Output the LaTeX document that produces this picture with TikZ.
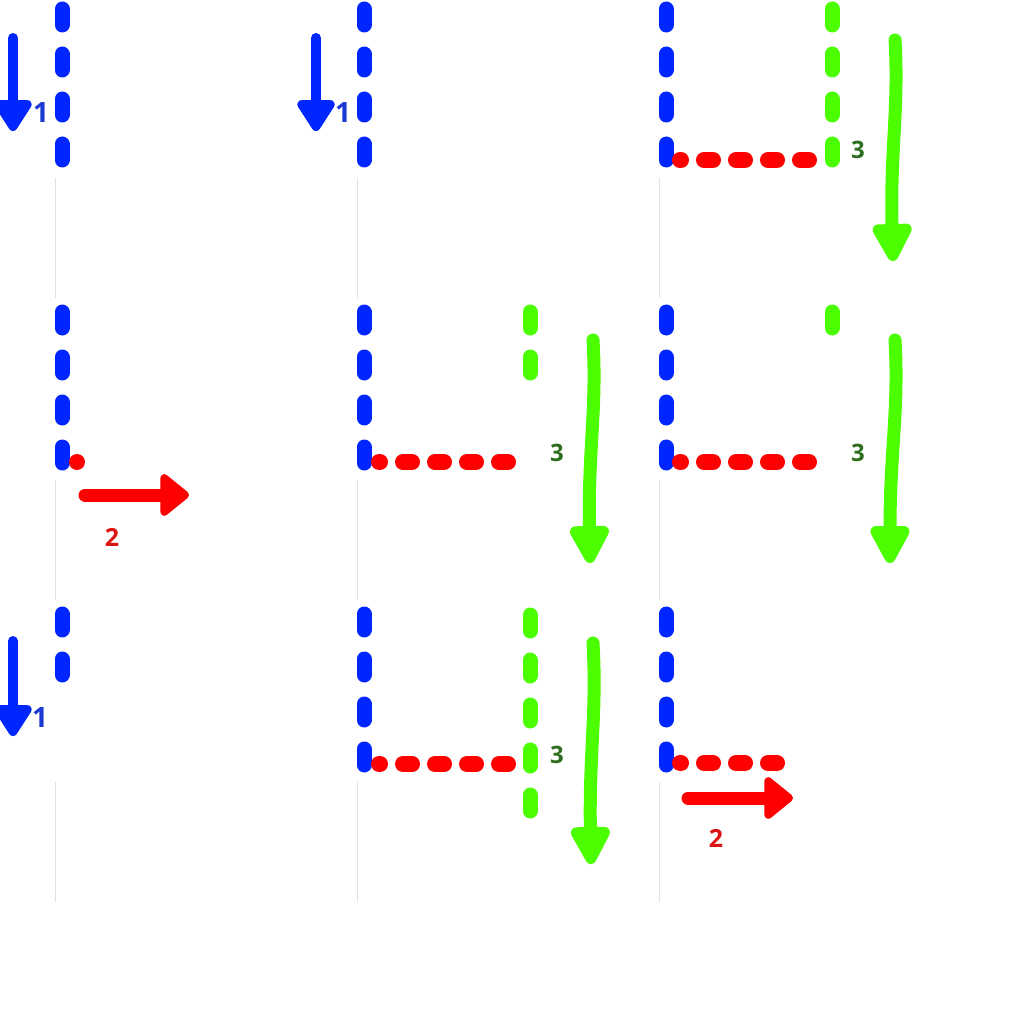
\documentclass[tikz,border=0pt]{standalone}
\usepackage{fontspec}
\setsansfont{Open Sans}
\usetikzlibrary{arrows.meta}

\definecolor{penblue}{RGB}{0,38,255}
\definecolor{penred}{RGB}{255,0,0}
\definecolor{pengreen}{RGB}{76,255,0}
\definecolor{labblue}{RGB}{28,58,210}
\definecolor{labgreen}{RGB}{46,110,30}
\definecolor{labred}{RGB}{220,20,20}

\tikzset{
	pen/.style={line cap=round, line width=15pt},
	bluedash/.style={pen, penblue, dash pattern=on 16pt off 29pt},
	greendash/.style={pen, pengreen, dash pattern=on 16pt off 29pt},
	reddash/.style={pen, penred, line width=16pt, dash pattern=on 9pt off 23pt, dash phase=8pt},
	bluearrow/.style={penblue, line width=10pt, line cap=round, -{Triangle[width=42pt,length=35pt,round]}},
	redarrow/.style={penred, line width=13pt, line cap=round, -{Triangle[width=48pt,length=31pt,round]}},
	greenarrow/.style={pengreen, line width=13pt, line cap=round, -{Triangle[width=43pt,length=44pt,round]}},
	guide/.style={gray!22, line width=0.8pt},
	numone/.style={labblue, inner sep=0pt, font=\sffamily\bfseries\fontsize{28}{28}\selectfont},
	numtwo/.style={labred, inner sep=0pt, font=\sffamily\bfseries\fontsize{25}{25}\selectfont},
	numthree/.style={labgreen, inner sep=0pt, font=\sffamily\bfseries\fontsize{24}{24}\selectfont},
}

\begin{document}
\begin{tikzpicture}[x=1pt, y=-1pt]

	\useasboundingbox (0,0) rectangle (1024,1024);
	\clip (0,0) rectangle (1024,1024);

	% --- Faint panel guides ---
	\foreach \c in {55,357,659} {
		\foreach \r in {0,302,604} {
			\draw[guide] (\c,\r+178) -- (\c,\r+298);
		}
	}

	% --- Blue walls ---
	\foreach \x/\top/\bot [count=\i] in {62/0/160, 364/0/160, 666/0/160,
		62/310/463, 364/310/463, 666/310/463,
		62/612/675, 364/612/765, 666/612/765} {
		\coordinate (blue\i-s) at (\x,\bot);
		\coordinate (blue\i-e) at (\x,\top);
		\draw[bluedash] (blue\i-s) -- (blue\i-e);
	}

	% --- Red floors ---
	\foreach \xa/\xb/\y [count=\i] in {680/810/160, 379/508/462, 680/810/462,
		379/508/764, 680/777/763} {
		\coordinate (red\i-s) at (\xa,\y);
		\coordinate (red\i-e) at (\xb,\y);
		\draw[reddash] (red\i-s) -- (red\i-e);
	}
	\node[circle, fill=penred, minimum size=16pt, inner sep=0pt] (reddot) at (77,462) {};

	% --- Green walls ---
	\foreach \x/\top/\bot [count=\i] in {832/0/160, 530/310/373, 832/310/328, 530/612/811} {
		\coordinate (green\i-s) at (\x,\bot);
		\coordinate (green\i-e) at (\x,\top);
		\draw[greendash] (green\i-s) -- (green\i-e);
	}

	% --- Step 1 arrows ---
	\coordinate (a1s) at (13,38);   \coordinate (a1e) at (13,131);
	\coordinate (b1s) at (316,38);  \coordinate (b1e) at (316,131);
	\coordinate (c1s) at (13,641);  \coordinate (c1e) at (13,736);
	\draw[bluearrow] (a1s) -- (a1e);
	\draw[bluearrow] (b1s) -- (b1e);
	\draw[bluearrow] (c1s) -- (c1e);
	\node[numone] (one-a) at (41,113) {1};
	\node[numone] (one-b) at (343,113) {1};
	\node[numone] (one-c) at (40,717) {1};

	% --- Step 2 arrows ---
	\coordinate (a2s) at (85,495);  \coordinate (a2e) at (189,495);
	\coordinate (b2s) at (688,798); \coordinate (b2e) at (793,798);
	\draw[redarrow] (a2s) -- (a2e);
	\draw[redarrow] (b2s) -- (b2e);
	\node[numtwo] (two-a) at (112,537) {2};
	\node[numtwo] (two-b) at (716,838) {2};

	% --- Step 3 arrows ---
	\coordinate (a3s) at (895,40);  \coordinate (a3e) at (893,261);
	\coordinate (b3s) at (593,340); \coordinate (b3e) at (590,563);
	\coordinate (c3s) at (895,340); \coordinate (c3e) at (890,563);
	\coordinate (d3s) at (593,643); \coordinate (d3e) at (591,864);
	\draw[greenarrow] (a3s) .. controls (899,110) and (890,150) .. (a3e);
	\draw[greenarrow] (b3s) .. controls (597,410) and (588,450) .. (b3e);
	\draw[greenarrow] (c3s) .. controls (899,410) and (890,450) .. (c3e);
	\draw[greenarrow] (d3s) .. controls (597,713) and (589,753) .. (d3e);
	\node[numthree] (three-a) at (858,150) {3};
	\node[numthree] (three-b) at (557,453) {3};
	\node[numthree] (three-c) at (858,453) {3};
	\node[numthree] (three-d) at (557,755) {3};

\end{tikzpicture}
\end{document}
